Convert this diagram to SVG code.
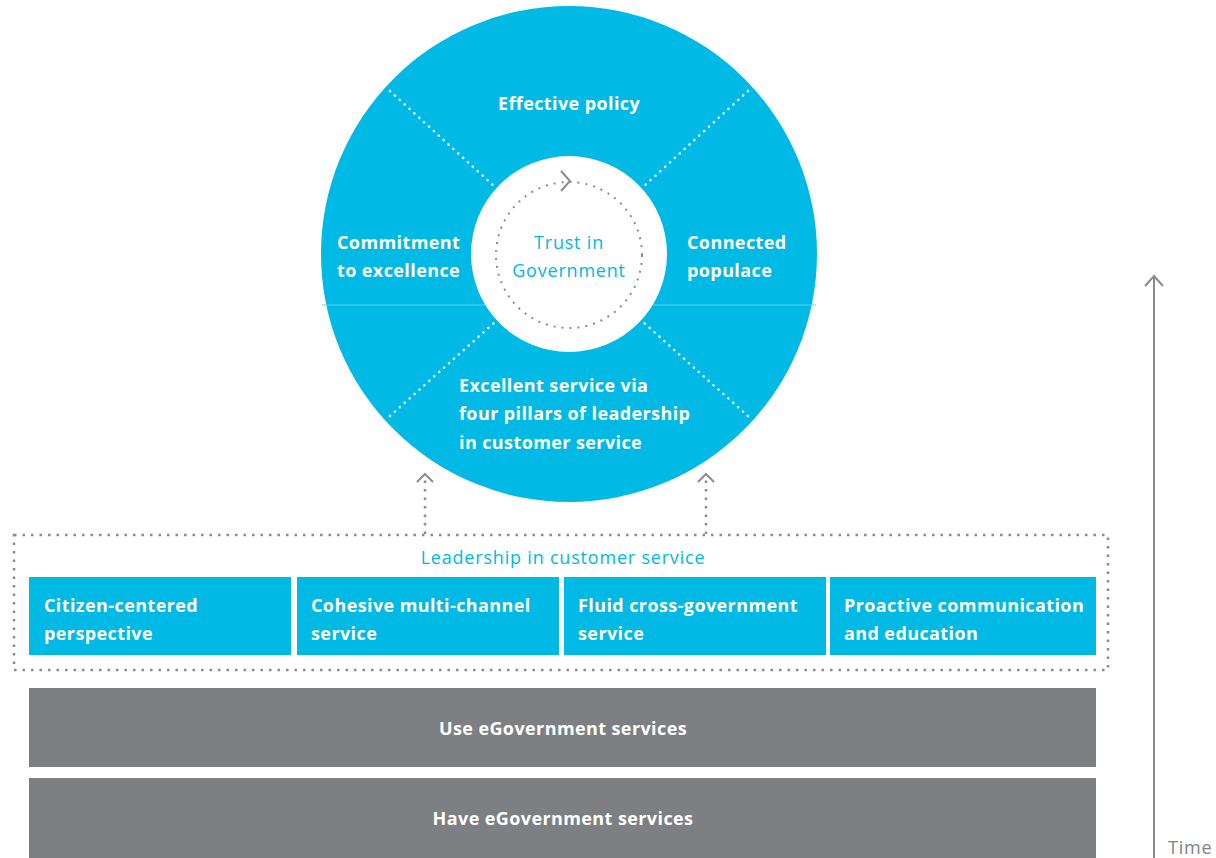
<svg xmlns="http://www.w3.org/2000/svg" width="1216" height="858" viewBox="0 0 1216 858">
<style>
.t{font-family:"Open Sans","Liberation Sans",sans-serif;font-size:18px;letter-spacing:0.8px}
.w{fill:#fff;font-weight:700;letter-spacing:0.4px}
.c{fill:#00b9e4}
.g{fill:#808285}
.wd{stroke:#fff;stroke-width:2.6;stroke-dasharray:0.1 6.5;stroke-linecap:round;fill:none;opacity:.9}
.gd{stroke:#8a8c8f;stroke-width:2.5;stroke-dasharray:2.5 6;fill:none}
.ln{stroke:#8a8c8f;stroke-width:2;fill:none}
</style>
<g id="wheel">
<circle cx="569" cy="254" r="248" fill="#00b9e4"/>
<line x1="322" y1="305" x2="816" y2="305" stroke="#5fd3ef" stroke-width="1"/>
<line class="wd" x1="390" y1="91" x2="495" y2="187"/>
<line class="wd" x1="748" y1="91" x2="643" y2="187"/>
<line class="wd" x1="390" y1="416" x2="495" y2="322"/>
<line class="wd" x1="748" y1="416" x2="643" y2="322"/>
<circle cx="569" cy="254" r="98" fill="#fff"/>
<circle cx="569" cy="255" r="73" stroke="#8a8c8f" stroke-width="2" stroke-dasharray="2 6" fill="none"/>
<polyline points="561,171 570,181 561,191" class="ln"/>
<text class="t w" x="569" y="110" text-anchor="middle">Effective policy</text>
<text class="t w" x="337" y="249">Commitment</text>
<text class="t w" x="337" y="277">to excellence</text>
<text class="t w" x="687" y="249">Connected</text>
<text class="t w" x="687" y="277">populace</text>
<text class="t w" x="459" y="392">Excellent service via</text>
<text class="t w" x="459" y="420">four pillars of leadership</text>
<text class="t w" x="459" y="449">in customer service</text>
<text class="t c" x="569" y="249" text-anchor="middle">Trust in</text>
<text class="t c" x="569" y="277" text-anchor="middle">Government</text>
</g>
<g id="connectors">
<line class="gd" x1="425" y1="534" x2="425" y2="480"/>
<polyline class="ln" points="417,482 425,474 433,482"/>
<line class="gd" x1="706" y1="534" x2="706" y2="480"/>
<polyline class="ln" points="698,482 706,474 714,482"/>
<line x1="1154" y1="276" x2="1154" y2="858" stroke="#8a8c8f" stroke-width="2"/>
<polyline points="1145,286 1154,276 1163,286" class="ln" stroke-width="2.5"/>
</g>
<g id="leadership">
<rect x="14" y="535" width="1094" height="135" class="gd"/>
<text class="t c" x="563" y="564" text-anchor="middle">Leadership in customer service</text>
</g>
<g id="pillar1">
<rect x="29" y="577" width="262" height="78" fill="#00b9e4"/>
<text class="t w" x="44" y="612">Citizen-centered</text>
<text class="t w" x="44" y="640">perspective</text>
</g>
<g id="pillar2">
<rect x="297" y="577" width="262" height="78" fill="#00b9e4"/>
<text class="t w" x="311" y="612">Cohesive multi-channel</text>
<text class="t w" x="311" y="640">service</text>
</g>
<g id="pillar3">
<rect x="564" y="577" width="262" height="78" fill="#00b9e4"/>
<text class="t w" x="578" y="612">Fluid cross-government</text>
<text class="t w" x="578" y="640">service</text>
</g>
<g id="pillar4">
<rect x="830" y="577" width="266" height="78" fill="#00b9e4"/>
<text class="t w" x="844" y="612">Proactive communication</text>
<text class="t w" x="844" y="640">and education</text>
</g>
<g id="use">
<rect x="29" y="688" width="1067" height="79" fill="#7d7f83"/>
<text class="t w" x="563" y="735" text-anchor="middle">Use eGovernment services</text>
</g>
<g id="have">
<rect x="29" y="778" width="1067" height="80" fill="#7d7f83"/>
<text class="t w" x="563" y="825" text-anchor="middle">Have eGovernment services</text>
</g>
<g id="time">
<text class="t g" x="1168" y="854">Time</text>
</g>
</svg>
